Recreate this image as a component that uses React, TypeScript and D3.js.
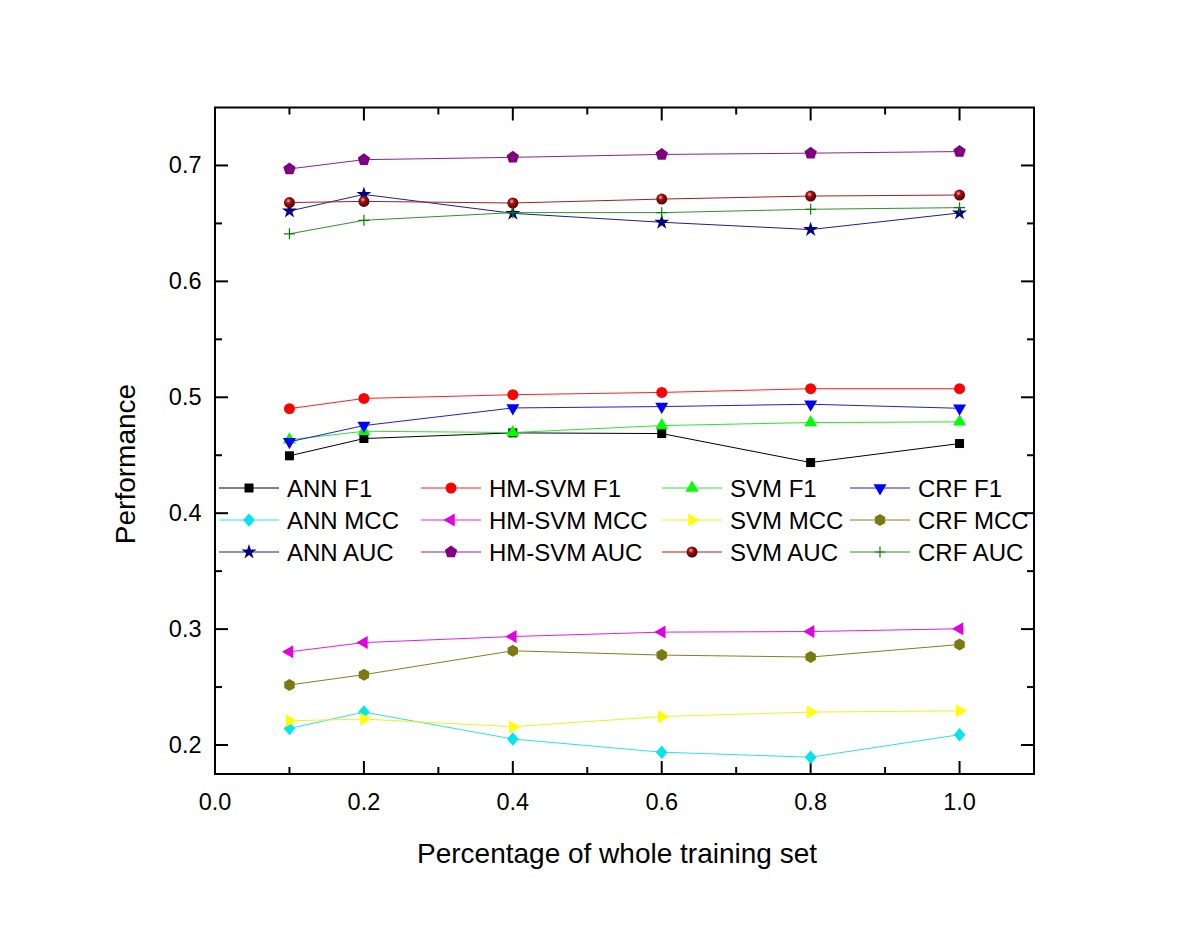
import React, { useEffect } from "react";
import * as d3 from "d3";

const xValues = [0.1, 0.2, 0.4, 0.6, 0.8, 1.0];
const xTicks = [0.0, 0.2, 0.4, 0.6, 0.8, 1.0];
const yTicks = [0.2, 0.3, 0.4, 0.5, 0.6, 0.7];

const annF1 = [0.4495, 0.4644, 0.4693, 0.4687, 0.4437, 0.4601];
const hmsvmF1 = [0.4902, 0.499, 0.5022, 0.5042, 0.5074, 0.5074];
const svmF1 = [0.4633, 0.4707, 0.4696, 0.4756, 0.4782, 0.4788];
const crfF1 = [0.4616, 0.4756, 0.4908, 0.492, 0.494, 0.4905];
const annMCC = [0.2143, 0.2284, 0.2052, 0.1938, 0.1895, 0.2089];
const hmsvmMCC = [0.2804, 0.2884, 0.2936, 0.2974, 0.2979, 0.3003];
const svmMCC = [0.2209, 0.2224, 0.2158, 0.2246, 0.2284, 0.2295];
const crfMCC = [0.2518, 0.2607, 0.2813, 0.2776, 0.2759, 0.2867];
const annAUC = [0.6607, 0.675, 0.6587, 0.651, 0.6447, 0.659];
const hmsvmAUC = [0.697, 0.705, 0.707, 0.7095, 0.7106, 0.712];
const svmAUC = [0.668, 0.669, 0.6676, 0.671, 0.6736, 0.6745];
const crfAUC = [0.641, 0.6527, 0.6593, 0.6593, 0.6622, 0.6636];

const seriesNames = [
  "ANN F1", "HM-SVM F1", "SVM F1", "CRF F1",
  "ANN MCC", "HM-SVM MCC", "SVM MCC", "CRF MCC",
  "ANN AUC", "HM-SVM AUC", "SVM AUC", "CRF AUC",
];
const seriesValues = [
  annF1, hmsvmF1, svmF1, crfF1,
  annMCC, hmsvmMCC, svmMCC, crfMCC,
  annAUC, hmsvmAUC, svmAUC, crfAUC,
];
const seriesLine = [
  "#000000", "#ff2020", "#30e030", "#2020d0",
  "#30e0e0", "#e020e0", "#f0f020", "#808020",
  "#202080", "#902090", "#a02020", "#309030",
];
const seriesFill = [
  "#000000", "#ff0000", "#00ff00", "#0000ff",
  "#00e5ee", "#e000e0", "#ffff00", "#7a7a10",
  "#000080", "#800080", "#800000", "#008000",
];
const seriesShape = [
  "square", "circle", "up", "down",
  "diamond", "left", "right", "hexagon",
  "star", "pentagon", "sphere", "plus",
];

function polygon(n: number, r: number, rot: number, sx = 1) {
  const pts: string[] = [];
  for (let i = 0; i < n; i++) {
    const a = rot + (i * 2 * Math.PI) / n;
    pts.push(`${(sx * r * Math.cos(a)).toFixed(2)},${(r * Math.sin(a)).toFixed(2)}`);
  }
  return "M" + pts.join("L") + "Z";
}

function Marker({ shape, x, y, fill }: { shape: string; x: number; y: number; fill: string }) {
  const t = `translate(${x},${y})`;
  switch (shape) {
    case "square":
      return <rect x={x - 4.5} y={y - 4.5} width={9} height={9} fill={fill} />;
    case "circle":
      return <circle cx={x} cy={y} r={5.5} fill={fill} />;
    case "up":
      return <path transform={t} d={polygon(3, 7.5, -Math.PI / 2)} fill={fill} />;
    case "down":
      return <path transform={t} d={polygon(3, 7.5, Math.PI / 2)} fill={fill} />;
    case "left":
      return <path transform={t} d={polygon(3, 7.5, Math.PI)} fill={fill} />;
    case "right":
      return <path transform={t} d={polygon(3, 7.5, 0)} fill={fill} />;
    case "diamond":
      return <path transform={t} d={polygon(4, 6.8, -Math.PI / 2, 0.85)} fill={fill} />;
    case "hexagon":
      return <path transform={t} d={polygon(6, 6, Math.PI / 6)} fill={fill} />;
    case "pentagon":
      return <path transform={t} d={polygon(5, 6.5, -Math.PI / 2)} fill={fill} />;
    case "star":
      return <path transform={t} d={d3.symbol(d3.symbolStar, 70)() || ""} fill={fill} />;
    case "sphere":
      return <circle cx={x} cy={y} r={5.5} fill="url(#sphereGrad)" />;
    case "plus":
      return (
        <path transform={t} d="M-5.5,0H5.5M0,-5.5V5.5" stroke={fill} strokeWidth={1.2} fill="none" />
      );
    default:
      return null;
  }
}

const W = 1200;
const H = 927;
const left = 215;
const right = 1034;
const top = 107.5;
const bottom = 774;

export default function App() {
  useEffect(() => {
    document.body.style.margin = "0";
  }, []);

  const x = d3.scaleLinear().domain([0, 1.1]).range([left, right]);
  const y = d3.scaleLinear().domain([0.175, 0.75]).range([bottom, top]);
  const line = d3
    .line<number>()
    .x((_, i) => x(xValues[i]))
    .y((v) => y(v));

  const xMinor = d3.range(0.1, 1.1, 0.2);
  const yMinor = d3.range(0.25, 0.75, 0.1);
  const font = "Arial, 'Liberation Sans', sans-serif";

  const legendCols = [219, 421, 662, 850];
  const legendRows = [488, 520, 552];

  return (
    <svg width={W} height={H} style={{ display: "block", background: "#fff" }} fontFamily={font}>
      <defs>
        <radialGradient id="sphereGrad" cx="0.4" cy="0.35" r="0.65">
          <stop offset="0" stopColor="#ffb0b0" />
          <stop offset="0.35" stopColor="#a01010" />
          <stop offset="1" stopColor="#500000" />
        </radialGradient>
      </defs>
      <rect x={0} y={0} width={W} height={H} fill="#fff" />

      {/* ticks */}
      {xTicks.map((t) => (
        <g key={"xt" + t}>
          <line x1={x(t)} x2={x(t)} y1={bottom} y2={bottom - 13} stroke="#000" strokeWidth={2} />
          <line x1={x(t)} x2={x(t)} y1={top} y2={top + 13} stroke="#000" strokeWidth={2} />
          <text x={x(t)} y={809.5} fontSize={23.5} textAnchor="middle" fill="#000">
            {t.toFixed(1)}
          </text>
        </g>
      ))}
      {xMinor.map((t) => (
        <g key={"xm" + t}>
          <line x1={x(t)} x2={x(t)} y1={bottom} y2={bottom - 7} stroke="#000" strokeWidth={2} />
          <line x1={x(t)} x2={x(t)} y1={top} y2={top + 7} stroke="#000" strokeWidth={2} />
        </g>
      ))}
      {yTicks.map((t) => (
        <g key={"yt" + t}>
          <line x1={left} x2={left + 13} y1={y(t)} y2={y(t)} stroke="#000" strokeWidth={2} />
          <line x1={right} x2={right - 13} y1={y(t)} y2={y(t)} stroke="#000" strokeWidth={2} />
          <text x={201.5} y={y(t) + 8} fontSize={23.5} textAnchor="end" fill="#000">
            {t.toFixed(1)}
          </text>
        </g>
      ))}
      {yMinor.map((t) => (
        <g key={"ym" + t}>
          <line x1={left} x2={left + 7} y1={y(t)} y2={y(t)} stroke="#000" strokeWidth={2} />
          <line x1={right} x2={right - 7} y1={y(t)} y2={y(t)} stroke="#000" strokeWidth={2} />
        </g>
      ))}
      <rect x={left} y={top} width={right - left} height={bottom - top} fill="none" stroke="#000" strokeWidth={2} />

      {/* series */}
      {seriesValues.map((vals, si) => (
        <g key={"s" + si}>
          <path d={line(vals) || ""} fill="none" stroke={seriesLine[si]} strokeWidth={1} />
          {vals.map((v, i) => (
            <Marker key={i} shape={seriesShape[si]} x={x(xValues[i])} y={y(v)} fill={seriesFill[si]} />
          ))}
        </g>
      ))}

      {/* legend */}
      {seriesNames.map((name, i) => {
        const col = i % 4;
        const row = Math.floor(i / 4);
        const lx = legendCols[col];
        const ly = legendRows[row];
        return (
          <g key={"lg" + i}>
            <line x1={lx} x2={lx + 60} y1={ly} y2={ly} stroke={seriesLine[i]} strokeWidth={1} />
            <Marker shape={seriesShape[i]} x={lx + 30} y={ly} fill={seriesFill[i]} />
            <text x={lx + 68} y={ly + 9} fontSize={24} fill="#000">
              {name}
            </text>
          </g>
        );
      })}

      {/* axis titles */}
      <text x={617} y={863} fontSize={28} textAnchor="middle" fill="#000">
        Percentage of whole training set
      </text>
      <text
        transform={`translate(135,${464}) rotate(-90)`}
        fontSize={28}
        textAnchor="middle"
        fill="#000"
      >
        Performance
      </text>
    </svg>
  );
}
